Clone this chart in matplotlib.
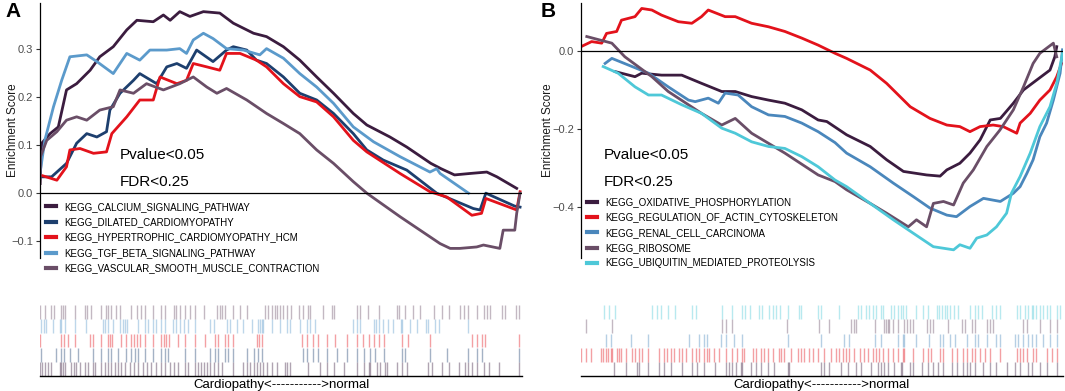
import matplotlib
matplotlib.use('Agg')
import matplotlib.pyplot as plt

plt.rcParams['font.family'] = ['Liberation Sans', 'DejaVu Sans']

# ---- panel A: running enrichment score (x = position in ranked list, %)
calcium_x = [0, 0.35, 2.1, 3.8, 5.5, 7.6, 10.4, 12.4, 15.2, 18.0, 20.1, 23.5, 25.6, 27.0, 29.0, 31.1, 33.9, 37.3,
             40.1, 44.3, 47.0, 50.5, 53.9, 57.4, 60.9, 65.0, 67.8, 72.6, 76.1, 81.1, 83.2, 86.0, 89.2, 92.7, 94.8, 98.9]
calcium_y = [0.02, 0.104, 0.124, 0.138, 0.215, 0.228, 0.256, 0.284, 0.305, 0.340, 0.360, 0.357, 0.371, 0.360, 0.378,
             0.368, 0.378, 0.375, 0.354, 0.333, 0.326, 0.305, 0.277, 0.242, 0.208, 0.166, 0.142, 0.117, 0.096, 0.062,
             0.051, 0.038, 0.041, 0.044, 0.034, 0.010]

dilated_x = [0, 2.4, 5.5, 7.6, 9.7, 11.8, 13.8, 14.5, 16.6, 19.4, 20.7, 24.2, 26.3, 28.4, 30.4, 32.5, 35.9, 38.7, 40.1,
             42.9, 44.9, 47.0, 50.5, 53.9, 57.4, 60.9, 65.0, 67.8, 71.2, 76.1, 82.3, 89.9, 91.3, 92.5, 98.5, 99.6]
dilated_y = [0.034, 0.034, 0.062, 0.104, 0.124, 0.117, 0.128, 0.173, 0.208, 0.235, 0.249, 0.228, 0.263, 0.270, 0.260,
             0.298, 0.274, 0.298, 0.305, 0.298, 0.277, 0.270, 0.242, 0.208, 0.194, 0.166, 0.124, 0.090, 0.069, 0.048,
             0.0, -0.032, -0.035, 0.0, -0.027, -0.029]

hcm_x = [0, 3.5, 5.5, 6.2, 8.3, 11.1, 13.8, 14.9, 18.0, 20.7, 23.5, 24.9, 28.4, 30.4, 31.8, 34.6, 37.3, 38.7, 41.5,
         44.9, 47.0, 50.5, 53.9, 57.4, 60.9, 65.0, 67.8, 74.7, 80.9, 84.4, 89.6, 91.6, 92.5, 98.9, 99.6]
hcm_y = [0.038, 0.027, 0.055, 0.090, 0.093, 0.083, 0.086, 0.124, 0.159, 0.194, 0.194, 0.242, 0.228, 0.235, 0.270,
         0.263, 0.256, 0.291, 0.291, 0.277, 0.263, 0.228, 0.201, 0.190, 0.159, 0.110, 0.086, 0.041, 0.003, -0.008,
         -0.046, -0.042, -0.011, -0.035, 0.003]

tgf_x = [0, 1.0, 2.8, 4.5, 6.2, 9.7, 11.8, 15.2, 18.0, 20.7, 22.8, 26.3, 29.0, 30.4, 31.8, 33.9, 35.9, 38.7, 42.2,
         45.6, 47.0, 50.5, 53.9, 57.4, 60.9, 65.0, 69.2, 74.7, 80.9, 82.3, 83.0, 88.9]
tgf_y = [0.041, 0.110, 0.180, 0.235, 0.284, 0.288, 0.274, 0.249, 0.291, 0.277, 0.298, 0.298, 0.301, 0.291, 0.319,
         0.333, 0.322, 0.301, 0.298, 0.288, 0.301, 0.281, 0.249, 0.221, 0.187, 0.138, 0.107, 0.076, 0.044, 0.051,
         0.041, 0.0]

vascular_x = [0, 0.1, 1.4, 3.5, 5.5, 7.6, 9.7, 12.4, 15.2, 16.6, 19.4, 22.1, 25.6, 29.0, 31.8, 34.6, 36.7, 38.7, 42.9,
              47.0, 50.5, 53.9, 57.4, 60.9, 65.0, 67.8, 74.7, 83.0, 85.1, 87.1, 90.6, 92.0, 95.4, 96.1, 98.5, 98.9, 99.6]
vascular_y = [0.020, 0.076, 0.110, 0.128, 0.152, 0.159, 0.152, 0.173, 0.180, 0.215, 0.208, 0.228, 0.215, 0.228, 0.242,
              0.221, 0.208, 0.218, 0.194, 0.166, 0.145, 0.124, 0.090, 0.062, 0.024, 0.0, -0.049, -0.105, -0.115,
              -0.115, -0.112, -0.108, -0.115, -0.077, -0.077, -0.042, 0.0]

# ---- panel B
oxidative_x = [7.1, 11.2, 12.6, 16.7, 20.9, 25.0, 29.2, 32.0, 35.4, 38.9, 42.3, 45.8, 49.2, 51.0, 55.1, 60.0, 63.4,
               66.9, 71.7, 74.5, 75.9, 78.6, 80.7, 82.8, 84.9, 87.0, 89.7, 91.8, 94.6, 97.3, 98.3, 98.7]
oxidative_y = [-0.053, -0.066, -0.057, -0.062, -0.062, -0.083, -0.104, -0.104, -0.117, -0.126, -0.134, -0.151,
               -0.177, -0.181, -0.215, -0.245, -0.279, -0.309, -0.318, -0.321, -0.305, -0.288, -0.262, -0.228,
               -0.177, -0.173, -0.134, -0.100, -0.074, -0.049, -0.015, 0.011]

actin_x = [0, 2.2, 4.3, 5.3, 7.4, 8.4, 11.2, 12.6, 14.7, 16.7, 20.2, 23.0, 25.0, 26.4, 29.9, 32.0, 35.4, 38.9, 42.3,
           45.8, 49.2, 52.7, 55.1, 60.0, 63.4, 68.3, 72.4, 75.9, 78.6, 80.7, 82.8, 85.5, 87.6, 90.4, 91.1, 93.2, 95.2,
           97.3, 98.7, 99.7]
actin_y = [0.011, 0.024, 0.020, 0.045, 0.050, 0.079, 0.088, 0.109, 0.105, 0.092, 0.075, 0.071, 0.088, 0.105, 0.088,
           0.088, 0.071, 0.062, 0.050, 0.033, 0.015, -0.006, -0.019, -0.049, -0.083, -0.143, -0.173, -0.190, -0.194,
           -0.207, -0.194, -0.190, -0.194, -0.211, -0.185, -0.160, -0.126, -0.100, -0.066, -0.032]

renal_x = [5.0, 6.4, 9.8, 14.0, 18.1, 22.3, 23.7, 26.4, 28.5, 29.9, 32.6, 35.4, 38.9, 42.3, 45.8, 49.2, 52.7, 55.1,
           60.0, 64.8, 69.0, 72.4, 75.9, 77.9, 80.7, 83.5, 87.0, 89.7, 91.1, 92.5, 93.8, 95.2, 96.6, 98.0, 99.4, 99.9]
renal_y = [-0.032, -0.019, -0.036, -0.057, -0.092, -0.126, -0.130, -0.121, -0.134, -0.108, -0.113, -0.143, -0.164,
           -0.168, -0.185, -0.207, -0.235, -0.262, -0.297, -0.339, -0.374, -0.403, -0.421, -0.425, -0.399, -0.378,
           -0.386, -0.365, -0.348, -0.314, -0.279, -0.220, -0.185, -0.126, -0.057, 0.003]

ribosome_x = [1.2, 6.4, 9.1, 14.7, 18.1, 25.0, 29.2, 32.0, 35.4, 42.3, 49.2, 52.7, 55.1, 60.0, 63.4, 67.9, 69.6, 71.7,
              73.1, 75.2, 77.3, 79.3, 81.4, 84.2, 86.9, 89.7, 91.8, 93.8, 95.2, 98.0, 98.7]
ribosome_y = [0.037, 0.020, -0.015, -0.066, -0.104, -0.160, -0.190, -0.173, -0.211, -0.262, -0.318, -0.335, -0.356,
              -0.391, -0.416, -0.451, -0.433, -0.451, -0.391, -0.386, -0.395, -0.339, -0.305, -0.245, -0.203,
              -0.151, -0.092, -0.032, -0.006, 0.020, -0.015]

ubiquitin_x = [4.6, 7.7, 11.2, 14.0, 16.7, 20.9, 25.0, 29.2, 32.0, 35.4, 38.9, 42.3, 45.8, 49.2, 52.7, 55.1, 60.0,
               64.8, 69.0, 73.1, 77.3, 78.6, 80.7, 82.1, 84.2, 86.2, 88.3, 89.3, 91.1, 93.2, 95.2, 97.3, 98.7, 99.9]
ubiquitin_y = [-0.040, -0.057, -0.092, -0.113, -0.113, -0.138, -0.160, -0.198, -0.211, -0.233, -0.245, -0.250,
               -0.271, -0.297, -0.331, -0.348, -0.391, -0.433, -0.468, -0.502, -0.510, -0.497, -0.506, -0.480,
               -0.472, -0.451, -0.416, -0.365, -0.322, -0.262, -0.194, -0.143, -0.083, -0.006]

# ---- hit positions (rug), % of ranked list
calcium_hits = [0.0, 0.4, 1.0, 1.7, 2.3, 4.1, 4.4, 4.8, 5.1, 6.5, 7.1, 7.5, 8.2, 9.3, 10.0, 11.0, 11.5, 12.7, 13.4,
                14.1, 14.8, 15.6, 16.2, 16.9, 17.6, 18.6, 19.6, 20.3, 21.4, 22.1, 23.1, 24.1, 25.2, 25.9, 26.9, 27.9,
                28.6, 30.0, 30.7, 32.1, 32.8, 33.5, 34.0, 34.6, 35.3, 36.0, 37.0, 37.7, 40.1, 42.2, 42.9, 43.6, 44.3,
                45.0, 45.6, 46.3, 47.0, 48.1, 49.1, 50.8, 51.3, 51.9, 55.7, 58.1, 59.5, 60.9, 63.0, 65.7, 67.2, 68.2,
                68.5, 69.9, 70.6, 71.6, 72.0, 74.1, 75.1, 76.1, 80.6, 81.3, 83.4, 84.8, 86.9, 88.2, 88.9, 89.6, 90.7,
                92.1, 93.1, 95.2, 99.3]
dilated_hits = [0.3, 3.4, 4.4, 5.0, 6.2, 7.9, 11.0, 12.7, 14.1, 14.8, 16.2, 17.9, 18.9, 19.8, 20.3, 21.7, 23.4, 25.2,
                25.9, 26.6, 30.0, 32.1, 35.3, 36.3, 37.0, 38.4, 39.1, 40.1, 42.9, 44.3, 45.3, 46.0, 54.6, 55.3, 56.7,
                57.7, 59.5, 61.6, 63.6, 65.7, 67.2, 68.5, 69.6, 71.3, 75.1, 75.8, 81.0, 84.4, 88.9, 90.7, 91.7, 99.3]
hcm_hits = [0.1, 4.4, 5.0, 5.8, 7.2, 10.3, 11.0, 12.7, 14.1, 14.5, 14.9, 16.9, 17.9, 18.8, 19.6, 20.2, 20.7, 21.7,
            23.4, 25.2, 25.7, 26.2, 26.7, 28.6, 30.0, 32.1, 34.2, 36.3, 37.0, 38.4, 39.1, 40.1, 45.0, 45.5, 46.0,
            54.3, 55.3, 56.7, 57.7, 59.5, 61.2, 63.6, 65.7, 67.0, 68.3, 69.2, 70.3, 71.3, 75.1, 76.3, 81.0, 89.6,
            90.7, 91.7, 92.4, 99.3]
tgf_hits = [0.3, 0.8, 1.3, 2.7, 4.1, 4.4, 5.1, 7.2, 9.6, 13.1, 13.4, 14.1, 15.1, 16.5, 17.2, 17.7, 18.1, 20.3, 21.7,
            22.4, 23.4, 24.1, 25.2, 25.9, 27.6, 28.3, 29.0, 29.9, 30.7, 32.1, 35.3, 36.0, 38.7, 39.4, 40.8, 42.2,
            43.9, 45.3, 45.6, 46.0, 46.3, 48.1, 49.8, 51.2, 51.9, 53.9, 55.3, 56.0, 57.1, 65.0, 65.7, 66.4, 69.2,
            69.7, 70.3, 71.1, 72.3, 73.2, 74.8, 75.1, 76.8, 78.2, 80.1, 80.6, 82.0, 82.7, 88.9]
vascular_hits = [0.1, 1.1, 2.2, 3.0, 4.4, 4.8, 5.1, 7.2, 9.3, 9.8, 10.6, 12.7, 13.7, 14.1, 14.8, 15.8, 16.7, 18.9,
                 20.2, 21.0, 21.8, 23.4, 25.2, 25.9, 27.9, 28.3, 29.0, 30.0, 31.1, 32.1, 34.0, 36.7, 37.3, 37.7, 38.4,
                 40.1, 41.5, 42.9, 46.7, 47.4, 48.1, 48.8, 49.2, 49.8, 50.5, 51.2, 52.0, 53.8, 54.6, 55.5, 56.0, 58.8,
                 60.5, 60.9, 65.7, 66.4, 68.0, 70.3, 74.1, 74.5, 75.8, 77.3, 78.9, 81.7, 83.4, 84.9, 87.2, 87.9, 88.9,
                 90.7, 92.1, 92.7, 93.4, 95.9, 96.5, 98.8, 99.3]

oxidative_hits = [6.8, 9.3, 11.7, 12.0, 13.8, 16.2, 17.2, 18.6, 21.0, 23.1, 24.1, 25.5, 27.9, 30.0, 30.7, 31.4, 32.1,
                  33.1, 33.5, 35.3, 36.3, 37.3, 38.7, 40.1, 42.9, 43.2, 49.8, 50.5, 51.5, 53.9, 55.3, 57.1, 58.1,
                  60.2, 61.6, 62.2, 62.9, 63.6, 65.0, 66.4, 66.7, 68.3, 68.9, 70.7, 72.0, 73.1, 74.1, 75.2, 76.9,
                  78.0, 79.3, 80.0, 80.7, 81.7, 83.4, 84.9, 86.2, 88.3, 90.0, 91.1, 92.8, 93.5, 95.2, 96.6, 98.7]
actin_hits = [0.0, 1.0, 2.0, 4.1, 4.6, 5.1, 5.7, 6.2, 6.5, 7.5, 7.9, 8.2, 9.3, 10.6, 11.3, 12.0, 12.7, 13.8, 16.2,
              17.2, 17.9, 18.6, 19.3, 20.3, 21.0, 21.7, 23.1, 23.8, 24.5, 25.5, 26.2, 26.6, 27.6, 28.6, 30.0, 31.4,
              32.4, 33.5, 33.9, 35.6, 36.3, 37.3, 38.0, 38.7, 39.8, 41.1, 41.5, 42.2, 43.6, 45.0, 45.6, 46.3, 47.4,
              48.1, 49.1, 50.5, 51.9, 52.9, 53.6, 54.3, 55.0, 55.7, 56.7, 57.8, 58.8, 59.5, 60.5, 61.2, 61.9, 62.6,
              63.6, 64.7, 65.7, 67.1, 66.9, 68.9, 71.0, 72.0, 72.7, 74.5, 75.2, 76.9, 78.0, 79.3, 80.0, 81.1, 81.7,
              82.8, 83.8, 84.9, 86.9, 90.4, 91.1, 91.8, 92.5, 93.8, 94.5, 96.6, 97.7, 98.7]
renal_hits = [5.1, 6.2, 10.3, 13.8, 22.4, 24.5, 25.5, 26.2, 29.0, 30.0, 31.7, 33.5, 42.9, 49.8, 54.6, 55.7, 60.9,
              62.2, 65.7, 67.1, 66.9, 69.6, 72.1, 74.5, 75.2, 76.6, 77.6, 80.0, 81.7, 82.4, 84.2, 86.2, 86.9, 90.0,
              90.7, 91.8, 92.8, 93.5, 94.5, 95.9, 97.3, 98.7]
ribosome_hits = [1.0, 6.5, 29.3, 30.0, 31.4, 42.7, 49.4, 51.5, 56.0, 56.7, 57.1, 60.9, 62.9, 63.3, 63.6, 64.0, 64.7,
                 65.7, 67.0, 67.6, 68.3, 68.9, 71.7, 72.4, 73.1, 76.2, 79.0, 79.7, 81.1, 81.7, 84.2, 84.9, 85.5, 91.8,
                 92.5, 95.2, 97.3, 98.7]
ubiquitin_hits = [4.8, 5.8, 7.1, 14.7, 15.8, 16.5, 18.1, 19.6, 23.1, 23.8, 29.3, 31.4, 33.5, 34.0, 35.1, 37.0, 37.5,
                  39.1, 39.8, 40.5, 41.3, 42.9, 45.3, 45.6, 49.1, 49.8, 53.6, 57.4, 58.1, 59.1, 59.8, 60.5, 61.2,
                  62.2, 62.6, 64.3, 65.0, 65.7, 66.4, 66.9, 67.4, 69.6, 71.0, 72.0, 73.8, 74.3, 74.8, 75.5, 76.0,
                  76.6, 77.3, 78.3, 80.7, 81.7, 82.4, 83.1, 85.2, 86.2, 86.9, 90.4, 91.1, 92.1, 92.8, 93.5, 93.8,
                  94.5, 95.2, 95.9, 96.6, 97.3, 98.7, 99.4]

names_a = ['KEGG_CALCIUM_SIGNALING_PATHWAY', 'KEGG_DILATED_CARDIOMYOPATHY', 'KEGG_HYPERTROPHIC_CARDIOMYOPATHY_HCM',
           'KEGG_TGF_BETA_SIGNALING_PATHWAY', 'KEGG_VASCULAR_SMOOTH_MUSCLE_CONTRACTION']
colors_a = ['#3b1c3f', '#1d3f6e', '#e3121b', '#5b9acb', '#6a4e67']
names_b = ['KEGG_OXIDATIVE_PHOSPHORYLATION', 'KEGG_REGULATION_OF_ACTIN_CYTOSKELETON', 'KEGG_RENAL_CELL_CARCINOMA',
           'KEGG_RIBOSOME', 'KEGG_UBIQUITIN_MEDIATED_PROTEOLYSIS']
colors_b = ['#3b1c3f', '#e3121b', '#4a87bc', '#6a4e67', '#4ec8d8']

curves_a = [(calcium_x, calcium_y), (dilated_x, dilated_y), (hcm_x, hcm_y), (tgf_x, tgf_y), (vascular_x, vascular_y)]
hits_a = [calcium_hits, dilated_hits, hcm_hits, tgf_hits, vascular_hits]
curves_b = [(oxidative_x, oxidative_y), (actin_x, actin_y), (renal_x, renal_y), (ribosome_x, ribosome_y),
            (ubiquitin_x, ubiquitin_y)]
hits_b = [oxidative_hits, actin_hits, renal_hits, ribosome_hits, ubiquitin_hits]

W, H = 1065, 391
fig = plt.figure(figsize=(W / 100, H / 100), dpi=100)


def px_axes(x0, y0, x1, y1):
    return fig.add_axes([x0 / W, 1 - y1 / H, (x1 - x0) / W, (y1 - y0) / H])


def draw_panel(x0, x1, ylim, yticks, curves, names, colors, hits, legend_top, stats_y, stats_x, ylabel_x):
    ax = px_axes(x0, 3, x1, 258)
    for (xs, ys), name, c in zip(curves, names, colors):
        ax.plot(xs, ys, color=c, lw=2.0, label=name, solid_joinstyle='round')
    ax.axhline(0, color='black', lw=0.9)
    ax.set_xlim(0, 100)
    ax.set_ylim(*ylim)
    ax.set_yticks(yticks)
    ax.set_yticklabels([f'{t:.1f}'.replace('-', '\u2212') for t in yticks])
    ax.set_xticks([])
    for s in ['top', 'right', 'bottom']:
        ax.spines[s].set_visible(False)
    ax.spines['left'].set_linewidth(0.9)
    ax.tick_params(axis='y', labelsize=8, colors='#333333', labelcolor='#4d4d4d', length=3, width=0.8, pad=2)
    ax.set_ylabel('Enrichment Score', fontsize=8.5, color='#1a1a1a')
    ax.yaxis.set_label_coords(ylabel_x, 0.5)
    ax.text(stats_x, stats_y[0], 'Pvalue<0.05', fontsize=11, va='center', ha='left')
    ax.text(stats_x, stats_y[1], 'FDR<0.25', fontsize=11, va='center', ha='left')
    leg = ax.legend(loc='upper left', bbox_to_anchor=(0.012, legend_top), frameon=False, fontsize=7,
                    handlelength=1.1, handletextpad=0.75, labelspacing=0.55, borderpad=0, borderaxespad=0)
    for line in leg.get_lines():
        line.set_linewidth(3)

    rug = px_axes(x0, 305, x1, 376)
    # rows from bottom: first gene set at the bottom
    for i, (pos, c) in enumerate(zip(hits, colors)):
        rug.vlines(pos, i + 0.02, i + 0.98, colors=c, alpha=0.4, lw=1.0)
    rug.set_xlim(0, 100)
    rug.set_ylim(0, 5)
    rug.set_xticks([])
    rug.set_yticks([])
    for s in ['top', 'right', 'left']:
        rug.spines[s].set_visible(False)
    rug.spines['bottom'].set_linewidth(1.0)
    rug.set_xlabel('Cardiopathy<----------->normal', fontsize=9.5, labelpad=2)
    return ax


draw_panel(40, 522, (-0.135, 0.396), [-0.1, 0.0, 0.1, 0.2, 0.3], curves_a, names_a, colors_a, hits_a,
           0.22, (0.079, 0.023), 16.6, -0.044)
draw_panel(581, 1063, (-0.531, 0.123), [-0.4, -0.2, 0.0], curves_b, names_b, colors_b, hits_b,
           0.239, (-0.267, -0.336), 4.8, -0.056)

fig.text(5 / W, 1 - 2 / H, 'A', fontsize=15, fontweight='bold', va='top', ha='left')
fig.text(541 / W, 1 - 2 / H, 'B', fontsize=15, fontweight='bold', va='top', ha='left')

fig.savefig('out.png', dpi=100)
